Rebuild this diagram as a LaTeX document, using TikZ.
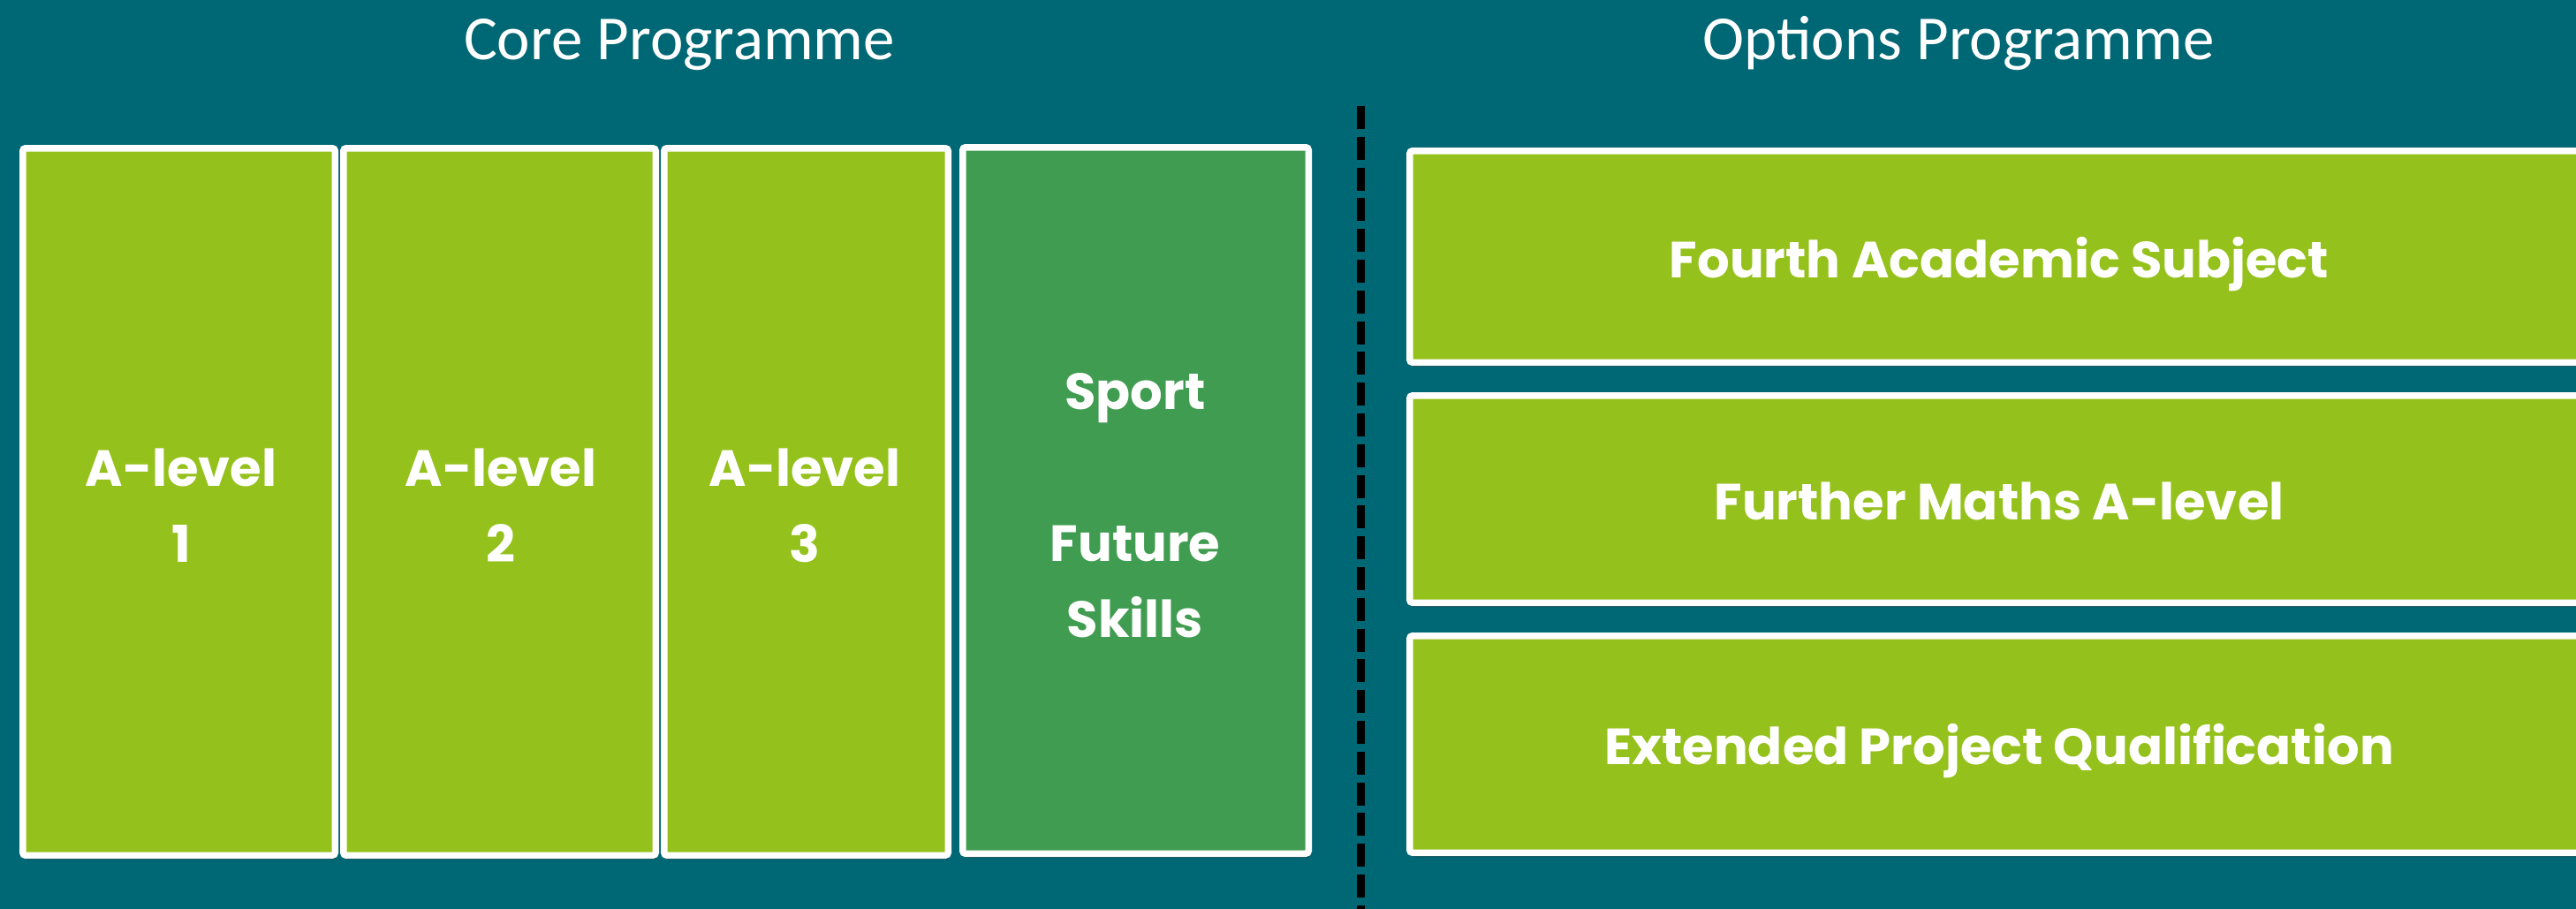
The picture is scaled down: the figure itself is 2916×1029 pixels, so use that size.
\documentclass[tikz,border=0pt]{standalone}
\usepackage{fontspec}
\setmainfont{Carlito}
\newfontfamily\boxfont{Poppins}
\usetikzlibrary{shadows}
\definecolor{bgteal}{HTML}{006775}
\definecolor{limegreen}{HTML}{95C11C}
\definecolor{darkgreen}{HTML}{409C50}
\begin{document}
\begin{tikzpicture}[x=0.25pt,y=-0.25pt,
  box/.style={draw=white, line width=1.875pt, rounded corners=0.8pt, inner sep=0pt, outer sep=0pt,
    drop shadow={shadow xshift=0.3pt, shadow yshift=-1.2pt, opacity=0.3, fill=black}},
  limebox/.style={box, fill=limegreen},
  greenbox/.style={box, fill=darkgreen},
  tallbox/.style={minimum height=200.125pt},
  widebox/.style={minimum width=333.625pt},
  title/.style={text=white, anchor=base, inner sep=0pt, font=\fontsize{17.75}{21}\selectfont},
  label/.style={text=white, anchor=base, inner sep=0pt, font=\boxfont\bfseries\fontsize{14.4}{17}\selectfont},
  divider/.style={black, line width=2.25pt, dash pattern=on 6.5pt off 2.2pt}]
\fill[bgteal] (0,0) rectangle (2916,1029);
\useasboundingbox (0,0) rectangle (2916,1029);

% titles
\node[title] (coret) at (769,67) {Core Programme};
\node[title] (optt) at (2217,67) {Options Programme};

% divider
\coordinate (dtop) at (1540,120);
\coordinate (dbot) at (1540,1040);
\draw[divider] (dtop) -- (dbot);

% core boxes
\node[limebox, tallbox, minimum width=88.375pt] (b1) at (202.5,568) {};
\node[limebox, tallbox, minimum width=88.375pt] (b2) at (565.5,568) {};
\node[limebox, tallbox, minimum width=80.375pt] (b3) at (912.5,568) {};
\node[greenbox, minimum width=97.875pt, minimum height=199.875pt] (b4) at (1285.5,566.5) {};

% options boxes
\node[limebox, widebox, minimum height=59.875pt] (r1) at (2263,290.5) {};
\node[limebox, widebox, minimum height=58.625pt] (r2) at (2263,565) {};
\node[limebox, widebox, minimum height=61.375pt] (r3) at (2263,842.5) {};

% labels
\node[label] (l1a) at (205,550) {A-level};
\node[label] (l1b) at (205,636) {1};
\node[label] (l2a) at (567,550) {A-level};
\node[label] (l2b) at (567,636) {2};
\node[label] (l3a) at (911,550) {A-level};
\node[label] (l3b) at (911,636) {3};
\node[label] (l4a) at (1285,463) {Sport};
\node[label] (l4b) at (1285,635) {Future};
\node[label] (l4c) at (1285,721) {Skills};

\node[label] (lr1) at (2263,314) {Fourth Academic Subject};
\node[label] (lr2) at (2263,588) {Further Maths A-level};
\node[label] (lr3) at (2263,865.5) {Extended Project Qualification};
\end{tikzpicture}
\end{document}
